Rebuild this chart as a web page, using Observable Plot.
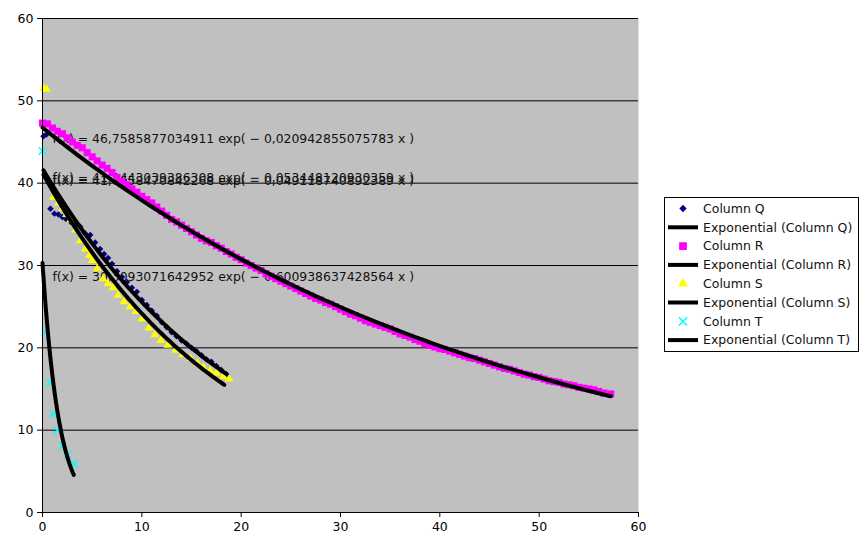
<!DOCTYPE html>
<html><head><meta charset="utf-8">
<script src="https://cdn.jsdelivr.net/npm/d3@7"></script>
<script src="https://cdn.jsdelivr.net/npm/@observablehq/plot@0.6"></script>
<style>
body{margin:0;background:#fff;font-family:"DejaVu Sans",sans-serif;}
#chart{width:867px;height:548px;}
</style>
</head><body><div id="chart"></div>
<script>
// Column Q (dark blue diamonds)
const qX = [0.1,0.4,0.8,1.2,1.6,2.0,2.4,2.8,3.3,3.8,4.3,4.8,5.3,5.8,6.2,6.6,7.0,7.5,8.0,8.5,9.0,9.5,10.0,10.5,11.0,11.5,12.0,12.5,13.0,13.5,14.0,14.5,15.0,15.5,16.0,16.5,17.0,17.5,18.0,18.5];
const qY = [45.7,45.9,36.9,36.3,36.2,35.9,35.6,35.3,35.0,34.7,33.9,33.7,32.8,32.0,31.4,30.9,30.2,29.3,28.6,28.0,27.3,26.8,25.8,25.2,24.5,23.9,23.1,22.5,21.9,21.4,20.9,20.5,20.0,19.6,19.1,18.6,18.3,17.8,17.3,16.8];
// Column R (magenta squares)
const rX = [0,0.5,1,1.5,2,2.5,3,3.5,4,4.5,5,5.5,6,6.5,7,7.5,8,8.5,9,9.5,10,10.5,11,11.5,12,12.5,13,13.5,14,14.5,15,15.5,16,16.5,17,17.5,18,18.5,19,19.5,20,20.5,21,21.5,22,22.5,23,23.5,24,24.5,25,25.5,26,26.5,27,27.5,28,28.5,29,29.5,30,30.5,31,31.5,32,32.5,33,33.5,34,34.5,35,35.5,36,36.5,37,37.5,38,38.5,39,39.5,40,40.5,41,41.5,42,42.5,43,43.5,44,44.5,45,45.5,46,46.5,47,47.5,48,48.5,49,49.5,50,50.5,51,51.5,52,52.5,53,53.5,54,54.5,55,55.5,56,56.5,57.2];
const rY = [47.3,47.2,46.7,46.3,46.0,45.5,45.0,44.6,44.3,43.7,43.2,42.7,42.2,41.8,41.3,40.7,40.2,39.8,39.3,38.9,38.4,38.0,37.6,37.1,36.6,36.1,35.6,35.3,34.9,34.5,34.1,33.7,33.3,33.0,32.8,32.4,32.1,31.7,31.4,31.0,30.7,30.3,30.0,29.7,29.4,29.0,28.7,28.4,28.1,27.8,27.5,27.2,26.9,26.6,26.3,26.0,25.8,25.5,25.3,25.0,24.7,24.4,24.1,23.9,23.6,23.3,23.1,22.9,22.7,22.5,22.3,22.0,21.7,21.5,21.3,21.0,20.8,20.5,20.3,20.1,19.9,19.8,19.6,19.4,19.2,19.0,18.8,18.7,18.5,18.3,18.1,17.9,17.7,17.5,17.4,17.2,17.0,16.8,16.7,16.5,16.4,16.2,16.0,15.9,15.8,15.6,15.5,15.4,15.2,15.1,15.0,14.9,14.7,14.5,14.4];
// Column S (yellow triangles)
const sX = [0.1,0.4,1.1,1.6,2.0,2.4,2.8,3.3,3.8,4.3,4.7,5.0,5.5,6.1,6.6,7.1,7.6,8.2,8.8,9.4,10.0,10.7,11.3,11.9,12.6,13.4,14.1,14.9,15.6,16.2,16.9,17.5,18.2,18.8];
const sY = [51.5,51.4,38.3,37.6,36.9,36.2,35.5,34.3,33.0,32.0,31.2,30.6,29.6,28.4,27.8,27.3,26.4,25.6,25.0,24.4,23.5,22.4,21.6,20.9,20.3,19.7,19.2,18.7,18.1,17.6,17.2,16.9,16.5,16.2];
// Column T (cyan crosses)
const tX = [0.0,0.3,0.8,1.1,1.5,2.0,2.5,3.2];
const tY = [43.9,21.9,15.8,12.0,10.0,8.1,7.0,5.9];

// Exponential trend lines f(x) = a exp(-b x)
const fitNames = ["Q","R","S","T"];
const fitA = [41.7658470842268, 46.7585877034911, 41.2443039386308, 30.3093071642952];
const fitB = [0.049118740892389, 0.020942855075783, 0.053448120930359, 0.600938637428564];
const fitX0 = [0.1, 0, 0.1, 0];
const fitX1 = [18.5, 57.2, 18.3, 3.15];
const fitLabels = [
  "f(x) = 41,7658470842268 exp( \u2212 0,049118740892389 x )",
  "f(x) = 46,7585877034911 exp( \u2212 0,020942855075783 x )",
  "f(x) = 41,2443039386308 exp( \u2212 0,053448120930359 x )",
  "f(x) = 30,3093071642952 exp( \u2212 0,600938637428564 x )"
];
const labelX = [1.0, 1.0, 1.0, 1.0];
const labelY = [40.25, 45.4, 40.6, 28.6];

const ticks = [0,10,20,30,40,50,60];
const legendNames = ["Column Q","Exponential (Column Q)","Column R","Exponential (Column R)","Column S","Exponential (Column S)","Column T","Exponential (Column T)"];

const pts = (xs, ys) => xs.map((x, i) => ({x, y: ys[i]}));
const fitPts = [];
fitNames.forEach((n, k) => {
  const N = 80;
  for (let i = 0; i <= N; i++) {
    const x = fitX0[k] + (fitX1[k] - fitX0[k]) * i / N;
    fitPts.push({name: n, x, y: fitA[k] * Math.exp(-fitB[k] * x)});
  }
});
const labels = fitLabels.map((t, i) => ({text: t, x: labelX[i], y: labelY[i]}));

const plot = Plot.plot({
  width: 867, height: 548,
  marginLeft: 42, marginRight: 229, marginTop: 18, marginBottom: 36,
  x: {domain: [0, 60]},
  y: {domain: [0, 60]},
  style: {fontFamily: "DejaVu Sans", fontSize: "12.5px", background: "white", color: "black"},
  marks: [
    Plot.frame({fill: "#c0c0c0", stroke: "none"}),
    Plot.gridY([10,20,30,40,50,60], {stroke: "#000", strokeOpacity: 1}),
    Plot.text(labels, {x: "x", y: "y", text: "text", textAnchor: "start", lineAnchor: "middle", fontSize: 12.4, fill: "#111"}),
    Plot.dot(pts(qX, qY), {x: "x", y: "y", symbol: "diamond2", fill: "#000080", r: 2.9}),
    Plot.dot(pts(rX, rY), {x: "x", y: "y", symbol: "square", fill: "#ff00ff", r: 4}),
    Plot.dot(pts(sX, sY), {x: "x", y: "y", symbol: "triangle", fill: "#ffff00", r: 3.2}),
    Plot.dot(pts(tX, tY), {x: "x", y: "y", symbol: "times", stroke: "#00ffff", strokeWidth: 1.5, r: 3.5}),
    Plot.line(fitPts, {x: "x", y: "y", z: "name", stroke: "#000", strokeWidth: 4}),
    Plot.ruleX([0], {stroke: "#000"}),
    Plot.ruleY([0], {stroke: "#000"}),
    Plot.axisX(ticks, {tickSize: 5, tickPadding: 5, label: null, fontSize: 12.5}),
    Plot.axisY(ticks, {tickSize: 5, tickPadding: 4, label: null, fontSize: 12.5})
  ]
});
document.getElementById("chart").appendChild(plot);

// Legend box
const svg = d3.select(plot);
const g = svg.append("g").attr("font-family", "DejaVu Sans").attr("font-size", 12.5).attr("text-anchor", "start");
g.append("rect").attr("x", 664.5).attr("y", 197.5).attr("width", 194).attr("height", 154)
  .attr("fill", "white").attr("stroke", "black");
legendNames.forEach((name, i) => {
  const cy = 208.5 + i * 18.8;
  if (i % 2 === 1) {
    g.append("line").attr("x1", 668).attr("x2", 698).attr("y1", cy).attr("y2", cy)
      .attr("stroke", "black").attr("stroke-width", 4);
  } else {
    const k = i / 2;
    const sym = [d3.symbolDiamond2, d3.symbolSquare, d3.symbolTriangle, d3.symbolTimes][k];
    const col = ["#000080", "#ff00ff", "#ffff00", "#00ffff"][k];
    const size = [34, 60, 42, 46][k];
    const p = g.append("path").attr("d", d3.symbol(sym, size)()).attr("transform", `translate(683,${cy})`);
    if (k === 3) p.attr("fill", "none").attr("stroke", col).attr("stroke-width", 1.5);
    else p.attr("fill", col);
  }
  g.append("text").attr("x", 703).attr("y", cy).attr("dy", "0.35em").attr("text-anchor", "start").attr("fill", "#111").text(name);
});
</script>
</body></html>
